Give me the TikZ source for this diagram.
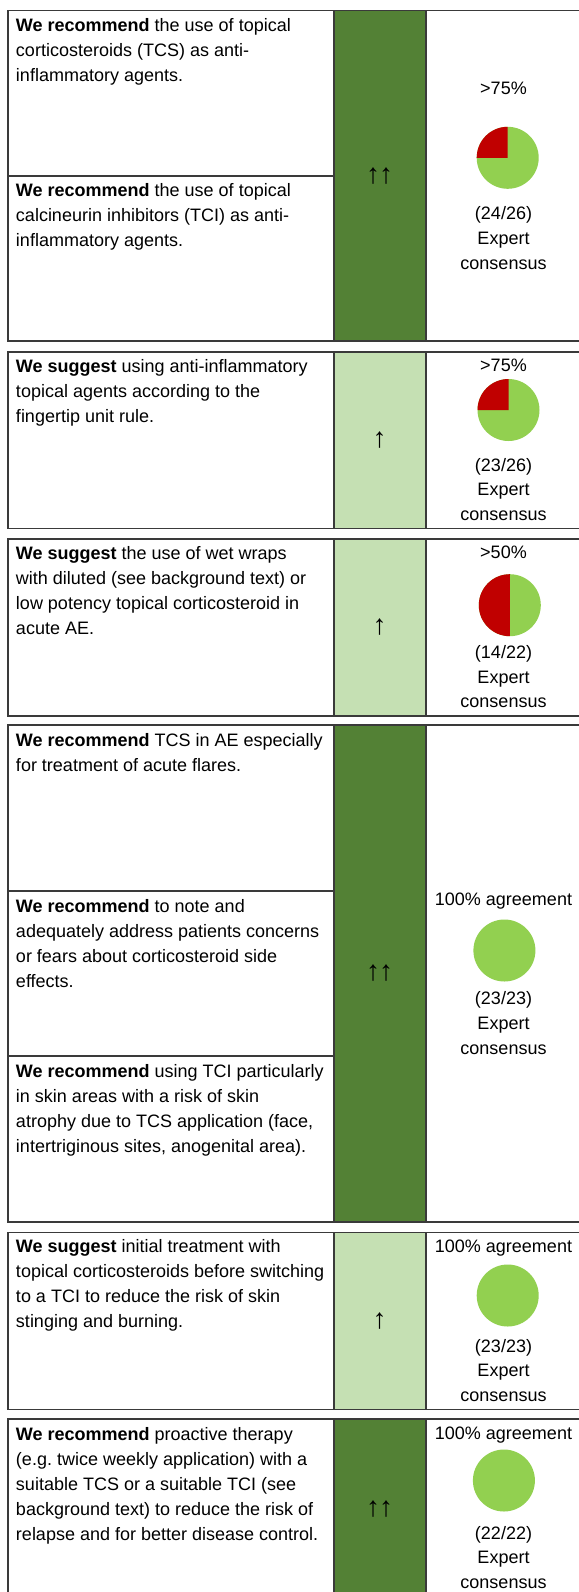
\documentclass[tikz,border=0pt]{standalone}
\usepackage{fontspec}
\setmainfont{Liberation Sans}
\definecolor{dkgreen}{HTML}{538135}
\definecolor{ltgreen}{HTML}{C5E0B3}
\definecolor{piegreen}{HTML}{92D050}
\definecolor{piered}{HTML}{C00000}
\definecolor{rulecol}{HTML}{3A3A3A}
\tikzset{
  cell/.style={anchor=north west, inner sep=0pt, align=left, font=\fontsize{18}{25}\selectfont\frenchspacing},
  ctext/.style={anchor=base, inner sep=0pt, font=\fontsize{18}{25}\selectfont},
  arr/.style={anchor=center, inner sep=0pt, font=\fontsize{28}{28}\selectfont},
  frame/.style={draw=rulecol, line width=1.6pt},
}
\begin{document}
\begin{tikzpicture}[x=1pt, y=-1pt]
\useasboundingbox (0,0) rectangle (578,1592);
\fill[white] (0,0) rectangle (578,1592);

% ---------- Box 1
\fill[dkgreen] (334,10.7) rectangle (426,340.7);
\draw[frame] (8,10.7) rectangle (582,340.7);
\draw[frame] (334,10.7) -- (334,340.7);
\draw[frame] (426,10.7) -- (426,340.7);
\draw[frame] (8,175.7) -- (334,175.7);
\node[cell] (t1a) at (15.8,17.9) {\textbf{We recommend} the use of topical\\corticosteroids (TCS) as anti-\\inflammatory agents.};
\node[cell] (t1b) at (15.8,183.6) {\textbf{We recommend} the use of topical\\calcineurin inhibitors (TCI) as anti-\\inflammatory agents.};
\node[arr] (a1) at (379.5,175.7) {↑\hspace{-1pt}↑};
\node[ctext] (p1) at (503.5,94.8) {>75\%};
\begin{scope}[shift={(507.7,157.8)}, y=1pt]
  \fill[piegreen] (0,0) circle[radius=31];
  \fill[piered] (0,0) -- (0,31) arc[start angle=90, end angle=180, radius=31] -- cycle;
\end{scope}
\node[ctext] (n1a) at (503.5,219.8) {(24/26)};
\node[ctext] (n1b) at (503.5,244.8) {Expert};
\node[ctext] (n1c) at (503.5,269.8) {consensus};

% ---------- Box 2
\fill[ltgreen] (334,351.7) rectangle (426,528.3);
\draw[frame] (8,351.7) rectangle (582,528.3);
\draw[frame] (334,351.7) -- (334,528.3);
\draw[frame] (426,351.7) -- (426,528.3);
\node[cell] (t2) at (15.8,358.9) {\textbf{We suggest} using anti-inflammatory\\topical agents according to the\\fingertip unit rule.};
\node[arr] (a2) at (379.5,440) {↑};
\node[ctext] (p2) at (503.5,371.5) {>75\%};
\begin{scope}[shift={(508.5,410)}, y=1pt]
  \fill[piegreen] (0,0) circle[radius=31];
  \fill[piered] (0,0) -- (0,31) arc[start angle=90, end angle=180, radius=31] -- cycle;
\end{scope}
\node[ctext] (n2a) at (503.5,471.5) {(23/26)};
\node[ctext] (n2b) at (503.5,495.5) {Expert};
\node[ctext] (n2c) at (503.5,520.5) {consensus};

% ---------- Box 3
\fill[ltgreen] (334,539) rectangle (426,716);
\draw[frame] (8,539) rectangle (582,716);
\draw[frame] (334,539) -- (334,716);
\draw[frame] (426,539) -- (426,716);
\node[cell] (t3) at (15.8,546.2) {\textbf{We suggest} the use of wet wraps\\with diluted (see background text) or\\low potency topical corticosteroid in\\acute AE.};
\node[arr] (a3) at (379.5,627.5) {↑};
\node[ctext] (p3) at (503.5,558.8) {>50\%};
\begin{scope}[shift={(509.8,605.2)}, y=1pt]
  \fill[piegreen] (0,0) circle[radius=31];
  \fill[piered] (0,0) -- (0,31) arc[start angle=90, end angle=270, radius=31] -- cycle;
\end{scope}
\node[ctext] (n3a) at (503.5,658.8) {(14/22)};
\node[ctext] (n3b) at (503.5,683.2) {Expert};
\node[ctext] (n3c) at (503.5,707.8) {consensus};

% ---------- Box 4
\fill[dkgreen] (334,725) rectangle (426,1221.7);
\draw[frame] (8,725) rectangle (582,1221.7);
\draw[frame] (334,725) -- (334,1221.7);
\draw[frame] (426,725) -- (426,1221.7);
\draw[frame] (8,890.7) -- (334,890.7);
\draw[frame] (8,1056) -- (334,1056);
\node[cell] (t4a) at (15.8,732.9) {\textbf{We recommend} TCS in AE especially\\for treatment of acute flares.};
\node[cell] (t4b) at (15.8,898.9) {\textbf{We recommend} to note and\\adequately address patients concerns\\or fears about corticosteroid side\\effects.};
\node[cell] (t4c) at (15.8,1064.6) {\textbf{We recommend} using TCI particularly\\in skin areas with a risk of skin\\atrophy due to TCS application (face,\\intertriginous sites, anogenital area).};
\node[arr] (a4) at (379.5,973.5) {↑\hspace{-1pt}↑};
\node[ctext] (p4) at (503.5,905.5) {100\% agreement};
\fill[piegreen] (504.4,950.5) circle[radius=31];
\node[ctext] (n4a) at (503.5,1004.8) {(23/23)};
\node[ctext] (n4b) at (503.5,1029.5) {Expert};
\node[ctext] (n4c) at (503.5,1054.8) {consensus};

% ---------- Box 5
\fill[ltgreen] (334,1232.3) rectangle (426,1409.3);
\draw[frame] (8,1232.3) rectangle (582,1409.3);
\draw[frame] (334,1232.3) -- (334,1409.3);
\draw[frame] (426,1232.3) -- (426,1409.3);
\node[cell] (t5) at (15.8,1239.6) {\textbf{We suggest} initial treatment with\\topical corticosteroids before switching\\to a TCI to reduce the risk of skin\\stinging and burning.};
\node[arr] (a5) at (379.5,1320.8) {↑};
\node[ctext] (p5) at (503.5,1252.2) {100\% agreement};
\fill[piegreen] (507.7,1295.5) circle[radius=31];
\node[ctext] (n5a) at (503.5,1352.2) {(23/23)};
\node[ctext] (n5b) at (503.5,1376.5) {Expert};
\node[ctext] (n5c) at (503.5,1401.5) {consensus};

% ---------- Box 6
\fill[dkgreen] (334,1419) rectangle (426,1600);
\draw[frame] (8,1419) rectangle (582,1600);
\draw[frame] (334,1419) -- (334,1600);
\draw[frame] (426,1419) -- (426,1600);
\node[cell] (t6) at (15.8,1427.2) {\textbf{We recommend} proactive therapy\\(e.g. twice weekly application) with a\\suitable TCS or a suitable TCI (see\\background text) to reduce the risk of\\relapse and for better disease control.};
\node[arr] (a6) at (379.5,1509) {↑\hspace{-1pt}↑};
\node[ctext] (p6) at (503.5,1439.8) {100\% agreement};
\fill[piegreen] (503.9,1480.5) circle[radius=31];
\node[ctext] (n6a) at (503.5,1539.8) {(22/22)};
\node[ctext] (n6b) at (503.5,1563.8) {Expert};
\node[ctext] (n6c) at (503.5,1588.8) {consensus};
\end{tikzpicture}
\end{document}
